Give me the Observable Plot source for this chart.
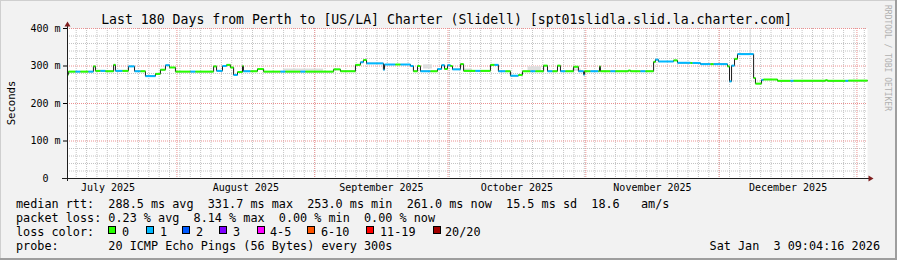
<!DOCTYPE html>
<html><head><meta charset="utf-8">
<script src="https://cdn.jsdelivr.net/npm/d3@7"></script>
<script src="https://cdn.jsdelivr.net/npm/@observablehq/plot@0.6"></script>
<style>
html,body{margin:0;padding:0;background:#f2f2f2}
#wrap{position:relative;width:897px;height:260px;background:#f2f2f2;overflow:hidden}
#wrap svg{position:absolute;left:0;top:0}
.edge{position:absolute}
</style></head><body><div id="wrap"></div>
<script>
// ---- data ----
const rangeStart = "2025-07-07T09:04:16Z";
const rangeEnd = "2026-01-03T09:04:16Z";
const times = ["2025-07-07T09:04Z","2025-07-07T14:00Z","2025-07-09T04:00Z","2025-07-10T07:00Z","2025-07-12T02:00Z","2025-07-13T05:00Z","2025-07-13T16:00Z","2025-07-14T19:00Z","2025-07-15T22:00Z","2025-07-17T18:00Z","2025-07-18T04:00Z","2025-07-19T18:00Z","2025-07-21T02:00Z","2025-07-22T11:00Z","2025-07-23T19:00Z","2025-07-24T22:00Z","2025-07-27T04:00Z","2025-07-28T07:00Z","2025-07-29T10:00Z","2025-07-30T08:00Z","2025-07-31T16:00Z","2025-08-04T01:00Z","2025-08-05T04:00Z","2025-08-09T06:00Z","2025-08-09T22:00Z","2025-08-11T06:00Z","2025-08-12T04:00Z","2025-08-13T01:00Z","2025-08-13T18:00Z","2025-08-14T15:00Z","2025-08-15T18:00Z","2025-08-15T23:00Z","2025-08-17T13:00Z","2025-08-19T03:00Z","2025-08-20T12:00Z","2025-08-24T07:00Z","2025-08-25T10:00Z","2025-08-28T19:00Z","2025-08-29T22:00Z","2025-09-05T06:00Z","2025-09-06T19:00Z","2025-09-10T04:00Z","2025-09-11T07:00Z","2025-09-11T23:00Z","2025-09-12T16:00Z","2025-09-16T11:00Z","2025-09-16T17:00Z","2025-09-19T04:00Z","2025-09-20T07:00Z","2025-09-22T13:00Z","2025-09-23T05:00Z","2025-09-24T03:00Z","2025-09-24T19:00Z","2025-09-27T01:00Z","2025-09-28T15:00Z","2025-09-29T13:00Z","2025-09-30T05:00Z","2025-09-30T21:00Z","2025-10-01T13:00Z","2025-10-02T00:00Z","2025-10-03T19:00Z","2025-10-04T12:00Z","2025-10-07T04:00Z","2025-10-08T07:00Z","2025-10-10T13:00Z","2025-10-11T11:00Z","2025-10-12T08:00Z","2025-10-13T22:00Z","2025-10-15T01:00Z","2025-10-16T20:00Z","2025-10-17T18:00Z","2025-10-19T13:00Z","2025-10-20T16:00Z","2025-10-22T12:00Z","2025-10-23T09:00Z","2025-10-24T12:00Z","2025-10-25T15:00Z","2025-10-26T07:00Z","2025-10-27T10:00Z","2025-10-29T06:00Z","2025-10-30T08:00Z","2025-10-31T12:00Z","2025-10-31T17:00Z","2025-11-02T01:00Z","2025-11-03T20:00Z","2025-11-04T02:00Z","2025-11-04T07:00Z","2025-11-06T13:00Z","2025-11-07T16:00Z","2025-11-10T14:00Z","2025-11-11T01:00Z","2025-11-13T07:00Z","2025-11-14T10:00Z","2025-11-16T06:00Z","2025-11-16T16:00Z","2025-11-17T08:00Z","2025-11-20T18:00Z","2025-11-21T15:00Z","2025-11-24T13:00Z","2025-11-25T00:00Z","2025-11-26T19:00Z","2025-11-29T01:00Z","2025-11-29T18:00Z","2025-12-02T21:00Z","2025-12-03T08:00Z","2025-12-03T19:00Z","2025-12-04T11:00Z","2025-12-05T03:00Z","2025-12-08T18:00Z","2025-12-09T04:00Z","2025-12-10T13:00Z","2025-12-10T23:00Z","2025-12-14T03:00Z","2025-12-17T01:00Z","2025-12-17T18:00Z","2025-12-24T22:00Z","2025-12-25T09:00Z","2025-12-29T10:00Z","2025-12-30T02:00Z","2026-01-03T09:04Z"];
const rtt = [277,285,285,285,285,299,287,287,286,303,287,287,299,286,286,273,279,290,302,296,285,285,285,299,287,300,303,296,276,284,300,286,286,292,285,285,285,285,285,291,286,303,310,316,307,290,304,304,304,300,286,300,286,286,292,302,292,302,300,291,305,287,287,287,303,303,286,286,274,276,286,286,286,301,286,286,301,286,286,298,286,277,286,286,286,299,286,286,286,288,286,286,286,311,317,312,315,308.5,308,308,305,305,305,299,259,301,319,331.7,268,253,263,264,260.5,260.5,260.5,262,260.5,260.5,261,261];
const loss = [0,0,1,0,1,0,0,1,0,0,1,0,1,1,0,1,0,0,1,0,0,1,0,0,1,1,0,0,1,0,0,1,0,0,0,1,0,1,0,0,0,0,1,0,1,1,1,0,1,1,0,0,1,0,1,1,0,1,0,1,0,0,1,0,0,1,1,0,1,0,0,1,0,0,1,0,0,1,0,0,1,1,0,1,0,0,0,1,0,0,0,1,0,0,1,1,0,1,0,1,1,0,1,0,1,1,0,1,0,0,1,0,0,1,0,0,0,1,0,0];
const smokeFrom = ["2025-08-25T00:00Z","2025-09-25T12:00Z","2025-10-04T12:00Z","2025-10-19T00:00Z","2025-10-29T00:00Z","2025-12-08T00:00Z"];
const smokeTo   = ["2025-09-03T00:00Z","2025-09-27T12:00Z","2025-10-06T12:00Z","2025-10-22T00:00Z","2025-10-31T00:00Z","2025-12-08T05:00Z"];
const smokeLo   = [286,292,287,288,286,332];
const smokeHi   = [292,303,292,298,292,400];
const monthStarts = ["2025-07-01","2025-08-01","2025-09-01","2025-10-01","2025-11-01","2025-12-01","2026-01-01"];
const yTicks = [0,100,200,300,400];
const lossLabels = ["0","1","2","3","4-5","6-10","11-19","20/20"];
const lossColors = ["#26ff00","#00b8ff","#0059ff","#7e00ff","#ff00ff","#ff5500","#ff0000","#a10000"];
const titleText = "Last 180 Days from Perth to [US/LA] Charter (Slidell) [spt01slidla.slid.la.charter.com]";
const statRtt = "median rtt:  288.5 ms avg  331.7 ms max  253.0 ms min  261.0 ms now  15.5 ms sd  18.6   am/s";
const statLoss = "packet loss: 0.23 % avg  8.14 % max  0.00 % min  0.00 % now";
const probeText = "probe:       20 ICMP Echo Pings (56 Bytes) every 300s";
const stampText = "Sat Jan  3 09:04:16 2026";
const yLabel = "Seconds";
const watermark = "RRDTOOL / TOBI OETIKER";

// ---- derived ----
const parse = s => new Date(s);
const x0 = parse(rangeStart), x1 = parse(rangeEnd);
const data = times.map((t, i) => ({t: parse(t), v: rtt[i], loss: loss[i]}));
const segs = data.slice(0, -1).map((d, i) => ({...d, t2: data[i + 1].t}));
const smoke = smokeFrom.map((a, i) => ({a: parse(a), b: parse(smokeTo[i]), lo: smokeLo[i], hi: smokeHi[i]}));
const mStarts = monthStarts.map(d => new Date(d + "T00:00Z"));
const majorX = mStarts.filter(d => d > x0 && d < x1);
const midMonths = mStarts.slice(0, -1).map((d, i) => new Date((+d + +mStarts[i + 1]) / 2));
const minorX = [];
for (let t = +new Date("2025-07-07T00:00Z"); t < +x1; t += 56 * 3600e3) if (t > +x0) minorX.push(new Date(t));
const minorY = d3.range(20, 400, 20).filter(v => v % 100 !== 0);
const majorY = yTicks.filter(v => v > 0);

const mono = "'DejaVu Sans Mono', monospace";
const plot = Plot.plot({
  width: 897, height: 200,
  marginLeft: 67, marginRight: 30, marginTop: 28, marginBottom: 22,
  x: {type: "utc", domain: [x0, x1], label: null},
  y: {domain: [0, 400], label: null},
  color: {type: "ordinal", domain: d3.range(8), range: lossColors},
  style: {background: "transparent", fontFamily: mono, fontSize: "10px", color: "#000", overflow: "visible"},
  marks: [
    Plot.frame({fill: "#ffffff", stroke: "none"}),
    Plot.ruleY(minorY, {stroke: "#c4c4c4", strokeDasharray: "1,1"}),
    Plot.ruleX(minorX, {stroke: "#c4c4c4", strokeDasharray: "1,1"}),
    Plot.ruleY(majorY, {stroke: "#eb9090", strokeDasharray: "1,1"}),
    Plot.ruleX(majorX, {stroke: "#eb9090", strokeDasharray: "1,1"}),
    Plot.rect(smoke, {x1: "a", x2: "b", y1: "lo", y2: "hi", fill: "#dedede"}),
    Plot.line(data, {x: "t", y: "v", curve: "step-after", stroke: "#1c1c1c", strokeWidth: 1}),
    Plot.link(segs, {x1: "t", x2: "t2", y1: "v", y2: "v", stroke: "loss", strokeWidth: 2, strokeLinecap: "butt"}),
    Plot.axisY({ticks: yTicks, tickSize: 4, tickPadding: 3, label: null,
      tickFormat: d => d === 0 ? "0\u00a0\u00a0" : d + " m"}),
    Plot.axisX({ticks: midMonths, tickSize: 0, tickPadding: 5, label: null,
      tickFormat: d3.utcFormat("%B %Y")})
  ]
});

const wrap = document.getElementById("wrap");
wrap.appendChild(plot);

// axes lines & arrows (rrdtool style)
const X = plot.scale("x"), Y = plot.scale("y");
const xa = X.apply(x0), xb = X.apply(x1), ya = Y.apply(0), yb = Y.apply(400);
const s = d3.select(plot);
const g = s.append("g");
g.append("line").attr("x1", xa - 5).attr("x2", xb + 2).attr("y1", ya + 0.5).attr("y2", ya + 0.5)
  .attr("stroke", "#1f1f1f");
g.append("line").attr("x1", xa + 0.5).attr("x2", xa + 0.5).attr("y1", ya + 3).attr("y2", yb - 2)
  .attr("stroke", "#1f1f1f");
g.append("path").attr("fill", "#7f1f1f")
  .attr("d", `M${xb + 1.5},${ya - 2.5}L${xb + 6.5},${ya + 0.5}L${xb + 1.5},${ya + 3.5}Z`);
g.append("path").attr("fill", "#7f1f1f")
  .attr("d", `M${xa - 2.5},${yb - 1.5}L${xa + 0.5},${yb - 6.5}L${xa + 3.5},${yb - 1.5}Z`);

// overlay texts
const o = d3.select(wrap).append("svg").attr("width", 897).attr("height", 260)
  .style("font-family", mono).style("overflow", "visible");
o.append("text").attr("x", 446.5).attr("y", 24).attr("text-anchor", "middle")
  .attr("font-size", 13.2).attr("fill", "#000").text(titleText);
o.append("text").attr("transform", "translate(11,103) rotate(-90)").attr("text-anchor", "middle")
  .attr("dy", "0.35em").attr("font-size", 10.6).attr("fill", "#000").text(yLabel);
o.append("text").attr("transform", "translate(887.5,5) rotate(90)").attr("text-anchor", "start")
  .attr("dy", "0.35em").attr("font-size", 8).attr("fill", "#b0b0b0").text(watermark);
const L = 11.8;
const line = (txt, x, y, anchor) => o.append("text").attr("x", x).attr("y", y)
  .attr("text-anchor", anchor || "start").attr("font-size", L).attr("fill", "#000")
  .attr("xml:space", "preserve").style("white-space", "pre").text(txt);
line(statRtt, 16, 208);
line(statLoss, 16, 222);
line("loss color:", 16, 236);
const boxX = [108, 146, 182, 219, 257, 307, 366, 433];
const txtX = [122, 160, 196, 233, 270, 321, 380, 445];
lossLabels.forEach((lab, i) => {
  o.append("rect").attr("x", boxX[i] + 0.5).attr("y", 226.5).attr("width", 7).attr("height", 7)
    .attr("fill", lossColors[i]).attr("stroke", "#000");
  line(lab, txtX[i], 236);
});
line(probeText, 16, 250);
line(stampText, 880, 250, "end");

// 3D frame edges
const edge = (css) => { const d = document.createElement("div"); d.className = "edge"; Object.assign(d.style, css); wrap.appendChild(d); };
edge({left: "0px", top: "0px", width: "897px", height: "1px", background: "#cfcfcf"});
edge({left: "0px", top: "0px", width: "1px", height: "260px", background: "#cfcfcf"});
edge({left: "0px", top: "258px", width: "897px", height: "2px", background: "#9e9e9e"});
edge({left: "895px", top: "0px", width: "2px", height: "260px", background: "#9e9e9e"});
</script></body></html>
